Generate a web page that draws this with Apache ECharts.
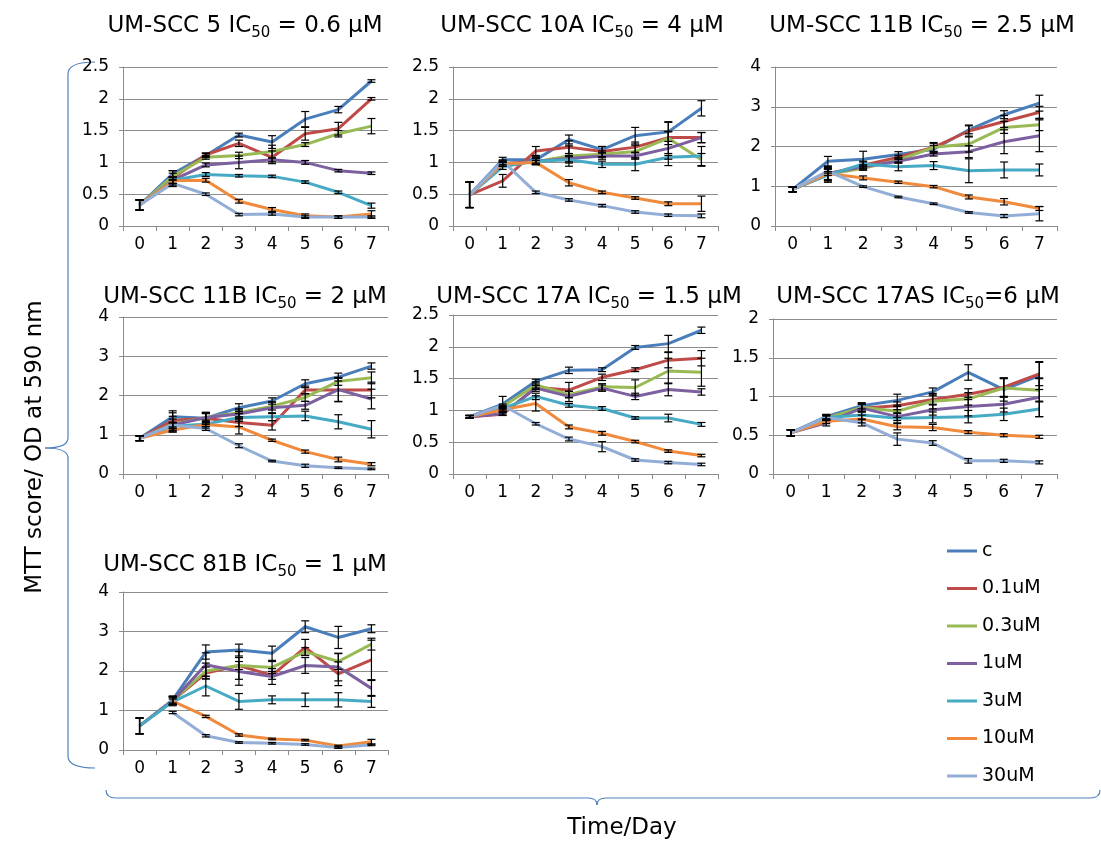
<!DOCTYPE html>
<html><head><meta charset="utf-8">
<script src="https://cdn.jsdelivr.net/npm/echarts@6/dist/echarts.min.js"></script>
<style>html,body{margin:0;padding:0;background:#fff}#c{width:1101px;height:842px}</style>
</head><body><div id="c"></div>
<script>
const days = ['0','1','2','3','4','5','6','7'];
const seriesNames = ['c','0.1uM','0.3uM','1uM','3uM','10uM','30uM'];
const colors = ['#4A7EBB','#BE4B48','#98B954','#7D60A0','#46AAC5','#F08A3C','#93AED6'];

// Panel titles: [prefix, IC50 value text]
const titlePrefix = ['UM-SCC 5 IC','UM-SCC 10A IC','UM-SCC 11B IC','UM-SCC 11B IC','UM-SCC 17A IC','UM-SCC 17AS IC','UM-SCC 81B IC'];
const titleSuffix = [' = 0.6 µM',' = 4 µM',' = 2.5 µM',' = 2 µM',' = 1.5 µM','=6 µM',' = 1 µM'];
const yMax = [2.5, 2.5, 4, 4, 2.5, 2, 4];
const yStep = [0.5, 0.5, 1, 1, 0.5, 0.5, 1];

// Values per panel: rows = c, 0.1uM, 0.3uM, 1uM, 3uM, 10uM, 30uM
const scc5 = [
  [0.33,0.82,1.11,1.43,1.32,1.68,1.83,2.28],
  [0.33,0.75,1.12,1.30,1.08,1.45,1.53,2.00],
  [0.33,0.78,1.08,1.11,1.17,1.28,1.45,1.57],
  [0.33,0.72,0.96,1.00,1.04,1.00,0.87,0.83],
  [0.33,0.72,0.81,0.79,0.78,0.69,0.53,0.32],
  [0.33,0.71,0.72,0.39,0.26,0.16,0.14,0.19],
  [0.33,0.67,0.50,0.18,0.19,0.14,0.14,0.14]
];
const scc5Err = [
  [0.08,0.05,0.03,0.03,0.10,0.12,0.05,0.02],
  [0.08,0.12,0.03,0.05,0.10,0.10,0.10,0.02],
  [0.08,0.05,0.03,0.05,0.10,0.03,0.05,0.12],
  [0.08,0.05,0.03,0.10,0.03,0.03,0.02,0.02],
  [0.08,0.05,0.03,0.02,0.02,0.02,0.02,0.04],
  [0.08,0.05,0.03,0.03,0.03,0.03,0.02,0.05],
  [0.08,0.05,0.02,0.02,0.02,0.02,0.02,0.02]
];
const scc10a = [
  [0.49,1.04,1.04,1.36,1.20,1.42,1.48,1.85],
  [0.49,0.71,1.18,1.24,1.17,1.24,1.39,1.39],
  [0.49,0.98,1.01,1.10,1.13,1.17,1.38,1.04],
  [0.49,0.98,1.02,1.06,1.10,1.10,1.22,1.39],
  [0.49,0.93,1.02,1.04,0.97,0.97,1.08,1.10],
  [0.49,0.98,1.00,0.68,0.53,0.44,0.35,0.35],
  [0.49,1.02,0.53,0.41,0.32,0.22,0.17,0.16]
];
const scc10aErr = [
  [0.20,0.04,0.05,0.07,0.05,0.13,0.15,0.12],
  [0.20,0.10,0.07,0.10,0.08,0.08,0.25,0.08],
  [0.20,0.04,0.05,0.16,0.05,0.10,0.10,0.10],
  [0.20,0.04,0.05,0.05,0.05,0.05,0.27,0.08],
  [0.20,0.04,0.05,0.05,0.05,0.10,0.03,0.15],
  [0.20,0.04,0.03,0.05,0.02,0.02,0.03,0.12],
  [0.20,0.02,0.02,0.02,0.02,0.02,0.02,0.03]
];
const scc11bA = [
  [0.92,1.63,1.68,1.80,1.93,2.42,2.80,3.09],
  [0.92,1.30,1.53,1.73,1.98,2.39,2.63,2.86],
  [0.92,1.30,1.45,1.66,1.98,2.06,2.48,2.55],
  [0.92,1.32,1.49,1.63,1.81,1.87,2.12,2.27],
  [0.92,1.28,1.56,1.49,1.52,1.39,1.41,1.41],
  [0.92,1.32,1.21,1.10,0.99,0.73,0.61,0.44],
  [0.92,1.38,0.99,0.73,0.56,0.34,0.25,0.31]
];
const scc11bAErr = [
  [0.06,0.12,0.20,0.07,0.10,0.10,0.10,0.20],
  [0.06,0.20,0.10,0.05,0.12,0.15,0.15,0.15],
  [0.06,0.15,0.05,0.05,0.10,0.20,0.15,0.15],
  [0.06,0.15,0.05,0.05,0.05,0.15,0.30,0.40],
  [0.06,0.15,0.05,0.10,0.10,0.30,0.20,0.15],
  [0.06,0.05,0.05,0.03,0.03,0.05,0.08,0.05],
  [0.06,0.05,0.02,0.02,0.02,0.02,0.04,0.18]
];
const scc11bB = [
  [0.91,1.46,1.42,1.69,1.86,2.30,2.47,2.75],
  [0.91,1.36,1.42,1.31,1.24,2.14,2.14,2.14],
  [0.91,1.27,1.44,1.56,1.73,1.95,2.36,2.45],
  [0.91,1.25,1.44,1.53,1.69,1.75,2.15,1.91],
  [0.91,1.22,1.27,1.44,1.46,1.48,1.33,1.14],
  [0.91,1.12,1.26,1.20,0.86,0.57,0.37,0.25],
  [0.91,1.25,1.16,0.72,0.33,0.21,0.16,0.13]
];
const scc11bBErr = [
  [0.06,0.15,0.15,0.10,0.08,0.10,0.10,0.08],
  [0.06,0.20,0.15,0.10,0.12,0.10,0.30,0.20],
  [0.06,0.20,0.10,0.10,0.10,0.10,0.10,0.15],
  [0.06,0.15,0.10,0.10,0.15,0.10,0.30,0.25],
  [0.06,0.10,0.10,0.10,0.10,0.12,0.18,0.22],
  [0.06,0.05,0.05,0.18,0.03,0.04,0.06,0.04],
  [0.06,0.05,0.05,0.05,0.02,0.04,0.02,0.02]
];
const scc17a = [
  [0.90,1.10,1.46,1.63,1.64,1.99,2.05,2.26],
  [0.90,0.94,1.36,1.32,1.52,1.64,1.79,1.82],
  [0.90,1.06,1.40,1.25,1.37,1.36,1.62,1.60],
  [0.90,0.95,1.35,1.22,1.35,1.22,1.33,1.29],
  [0.90,1.03,1.22,1.08,1.03,0.88,0.88,0.78],
  [0.90,1.01,1.11,0.74,0.64,0.51,0.36,0.29],
  [0.90,1.08,0.79,0.55,0.43,0.22,0.18,0.15]
];
const scc17aErr = [
  [0.02,0.12,0.03,0.05,0.03,0.03,0.13,0.05],
  [0.02,0.02,0.03,0.12,0.05,0.03,0.12,0.12],
  [0.02,0.02,0.05,0.05,0.05,0.12,0.20,0.22],
  [0.02,0.02,0.05,0.08,0.05,0.05,0.10,0.05],
  [0.02,0.02,0.05,0.03,0.03,0.02,0.06,0.03],
  [0.02,0.02,0.12,0.03,0.03,0.02,0.02,0.02],
  [0.02,0.02,0.02,0.03,0.08,0.02,0.02,0.02]
];
const scc17as = [
  [0.53,0.74,0.88,0.95,1.06,1.31,1.09,1.27],
  [0.53,0.72,0.85,0.88,0.96,1.03,1.12,1.29],
  [0.53,0.72,0.86,0.81,0.94,0.97,1.11,1.08],
  [0.53,0.66,0.85,0.74,0.83,0.87,0.90,0.99],
  [0.53,0.73,0.76,0.72,0.73,0.74,0.77,0.84],
  [0.53,0.68,0.71,0.61,0.60,0.54,0.50,0.48],
  [0.53,0.73,0.66,0.45,0.40,0.17,0.17,0.15]
];
const scc17asErr = [
  [0.04,0.03,0.04,0.08,0.05,0.10,0.15,0.18],
  [0.04,0.03,0.05,0.05,0.07,0.07,0.12,0.15],
  [0.04,0.03,0.05,0.08,0.10,0.08,0.12,0.15],
  [0.04,0.04,0.05,0.05,0.07,0.12,0.10,0.25],
  [0.04,0.03,0.05,0.06,0.07,0.08,0.08,0.10],
  [0.04,0.03,0.05,0.04,0.04,0.02,0.02,0.02],
  [0.04,0.03,0.04,0.08,0.03,0.03,0.02,0.02]
];
const scc81b = [
  [0.61,1.27,2.48,2.53,2.45,3.12,2.85,3.07],
  [0.61,1.25,1.95,2.14,1.89,2.60,1.93,2.28],
  [0.61,1.25,2.00,2.14,2.09,2.49,2.24,2.68],
  [0.61,1.25,2.16,1.99,1.86,2.14,2.10,1.56],
  [0.61,1.22,1.62,1.23,1.27,1.27,1.27,1.23],
  [null,1.24,0.85,0.38,0.28,0.25,0.10,0.21],
  [null,0.95,0.36,0.19,0.17,0.14,0.06,0.13]
];
const scc81bErr = [
  [0.20,0.10,0.18,0.15,0.18,0.15,0.28,0.10],
  [0.20,0.10,0.15,0.35,0.10,0.20,0.30,0.50],
  [0.20,0.10,0.20,0.10,0.15,0.10,0.20,0.15],
  [0.20,0.10,0.30,0.35,0.20,0.20,0.35,0.20],
  [0.20,0.10,0.25,0.20,0.10,0.17,0.18,0.15],
  [null,0.05,0.03,0.03,0.02,0.02,0.02,0.06],
  [null,0.03,0.03,0.02,0.02,0.02,0.02,0.02]
];

const panelValues = [scc5, scc10a, scc11bA, scc11bB, scc17a, scc17as, scc81b];
const panelErrors = [scc5Err, scc10aErr, scc11bAErr, scc11bBErr, scc17aErr, scc17asErr, scc81bErr];

// Layout (pixels)
const grids = [
  {left:123, top:67,  width:265, height:159},
  {left:453, top:67,  width:265, height:159},
  {left:775, top:67,  width:282, height:159},
  {left:123, top:317, width:265, height:157},
  {left:453, top:315, width:265, height:159},
  {left:773, top:319, width:284, height:155},
  {left:123, top:592, width:265, height:158}
];
const titlePos = [[245,26],[582,26],[922,26],[245,297],[589,297],[918,297],[245,565]];

const FONT = 'DejaVu Sans';
const gridColor = '#8C8C8C';
const braceColor = '#4F81BD';

const option = {
  animation: false,
  backgroundColor: '#fff',
  textStyle: {fontFamily: FONT},
  color: colors,
  grid: grids.map(g => Object.assign({containLabel:false}, g)),
  xAxis: grids.map((g,i) => ({
    type:'category', gridIndex:i, data: days, boundaryGap:true,
    axisLine:{show:true, lineStyle:{color:gridColor, width:1}},
    axisTick:{show:true, length:5, interval:0, lineStyle:{color:gridColor}},
    axisLabel:{color:'#000', fontSize:17, fontFamily:FONT, margin:10, interval:0},
    splitLine:{show:false}
  })),
  yAxis: grids.map((g,i) => ({
    type:'value', gridIndex:i, min:0, max:yMax[i], interval:yStep[i],
    axisLine:{show:true, lineStyle:{color:gridColor, width:1}},
    axisTick:{show:true, length:4, lineStyle:{color:gridColor}},
    axisLabel:{color:'#000', fontSize:17, fontFamily:FONT, margin:14},
    splitLine:{show:true, lineStyle:{color:gridColor, width:1}}
  })),
  legend: {
    orient:'vertical', left:942, top:535,
    data: seriesNames, icon:'rect', itemWidth:30, itemHeight:3, itemGap:15.5,
    textStyle:{fontSize:19, fontFamily:FONT, color:'#000', lineHeight:22}
  },
  series: [],
  graphic: []
};

function errItem(params, api){
  const x = api.value(0), v = api.value(1), e = api.value(2);
  const t = api.coord([x, v + e]);
  const b = api.coord([x, Math.max(v - e, 0)]);
  const cw = 4;
  const st = {stroke:'#000', lineWidth:1.2};
  return {type:'group', children:[
    {type:'line', shape:{x1:t[0], y1:t[1], x2:b[0], y2:b[1]}, style:st},
    {type:'line', shape:{x1:t[0]-cw, y1:t[1], x2:t[0]+cw, y2:t[1]}, style:st},
    {type:'line', shape:{x1:b[0]-cw, y1:b[1], x2:b[0]+cw, y2:b[1]}, style:st}
  ]};
}

panelValues.forEach((vals, p) => {
  vals.forEach((row, s) => {
    option.series.push({
      name: seriesNames[s], type:'line', xAxisIndex:p, yAxisIndex:p,
      data: row, symbol:'none', showSymbol:false, connectNulls:false,
      lineStyle:{width:3, color:colors[s]}, itemStyle:{color:colors[s]},
      z: 2
    });
  });
  const errData = [];
  vals.forEach((row, s) => {
    row.forEach((v, d) => {
      const e = panelErrors[p][s][d];
      if (v != null && e != null) errData.push([d, v, e]);
    });
  });
  option.series.push({
    type:'custom', xAxisIndex:p, yAxisIndex:p, data: errData, z: 5,
    silent:true, renderItem: errItem
  });
  option.graphic.push({
    type:'text', x:titlePos[p][0], y:titlePos[p][1],
    style:{
      text:'{a|' + titlePrefix[p] + '}{s|50}{a|' + titleSuffix[p] + '}',
      align:'center', verticalAlign:'middle',
      rich:{
        a:{fontSize:23, fontFamily:FONT, fill:'#000'},
        s:{fontSize:15, fontFamily:FONT, fill:'#000', padding:[14,0,0,0]}
      }
    }
  });
});

// Brace decorations built from lines and quadratic curves
function seg(x1,y1,x2,y2){
  return {type:'line', shape:{x1:x1,y1:y1,x2:x2,y2:y2}, style:{stroke:braceColor, lineWidth:1.2, fill:null}};
}
function curve(x1,y1,cx,cy,x2,y2){
  return {type:'bezierCurve', shape:{x1:x1,y1:y1,cpx1:cx,cpy1:cy,x2:x2,y2:y2}, style:{stroke:braceColor, lineWidth:1.2, fill:null}};
}
option.graphic.push(
  curve(95,62,68,62,68,74), seg(68,74,68,438), curve(68,438,68,448,45,448),
  curve(45,448,68,448,68,458), seg(68,458,68,756), curve(68,756,68,768,95,768),
  curve(106,790,106,798,116,798), seg(116,798,588,798), curve(588,798,597,798,597,805),
  curve(597,805,597,798,606,798), seg(606,798,1090,798), curve(1090,798,1100,798,1100,790),
  {type:'text', x:35, y:447, rotation:Math.PI/2,
   style:{text:'MTT score/ OD at 590 nm', font:'23px "DejaVu Sans"', fill:'#000', align:'center', verticalAlign:'middle'}},
  {type:'text', x:622, y:828,
   style:{text:'Time/Day', font:'23px "DejaVu Sans"', fill:'#000', align:'center', verticalAlign:'middle'}}
);

const chart = echarts.init(document.getElementById('c'), null, {renderer:'canvas'});
chart.setOption(option);
</script>
</body></html>
